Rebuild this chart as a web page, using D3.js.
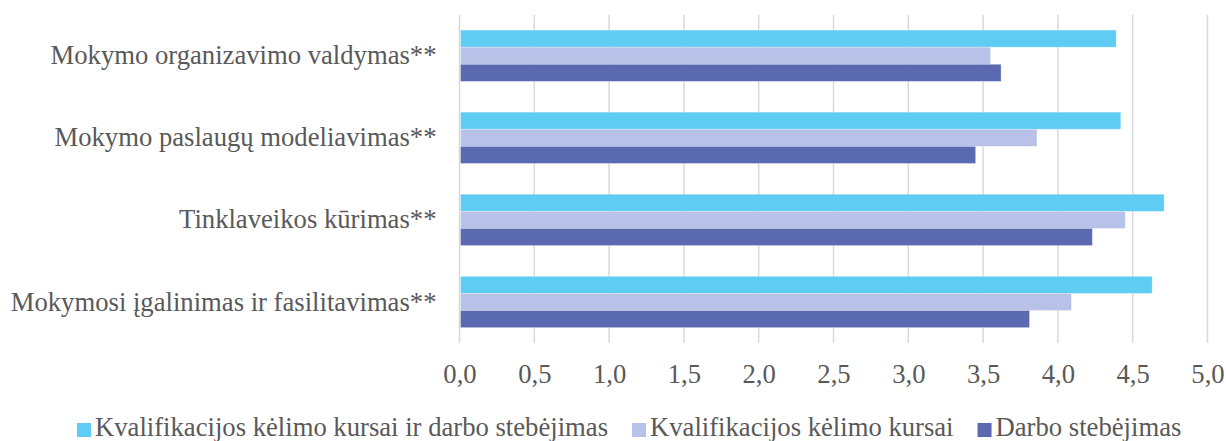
<!DOCTYPE html>
<html>
<head>
<meta charset="utf-8">
<script src="https://cdn.jsdelivr.net/npm/d3@7"></script>
<style>
  html, body { margin: 0; padding: 0; background: #fff; }
  svg { display: block; }
  text { font-family: "Liberation Serif", "Times New Roman", serif; fill: #595959; }
</style>
</head>
<body>
<svg id="chart" width="1226" height="441"></svg>
<script>
const categories = [
  "Mokymo organizavimo valdymas**",
  "Mokymo paslaugų modeliavimas**",
  "Tinklaveikos kūrimas**",
  "Mokymosi įgalinimas ir fasilitavimas**"
];
const seriesNames = [
  "Kvalifikacijos kėlimo kursai ir darbo stebėjimas",
  "Kvalifikacijos kėlimo kursai",
  "Darbo stebėjimas"
];
const seriesCombined = [4.39, 4.42, 4.71, 4.63];
const seriesCourses  = [3.55, 3.86, 4.45, 4.09];
const seriesObserve  = [3.62, 3.45, 4.23, 3.81];
const seriesColors = ["#5ECCF3", "#B8C2E8", "#5A69B0"];
const xTicks = [0, 0.5, 1, 1.5, 2, 2.5, 3, 3.5, 4, 4.5, 5];

const seriesValues = [seriesCombined, seriesCourses, seriesObserve];
const FONT = "'Liberation Serif', 'Times New Roman', serif";
const FS = "26.67px";

const svg = d3.select("#chart");
const plot = { left: 459.5, right: 1207.5, top: 14.7, bottom: 343 };

const x = d3.scaleLinear().domain([0, 5]).range([plot.left, plot.right]);
const y = d3.scaleBand().domain(categories).range([plot.top, plot.bottom])
  .paddingInner(0.375).paddingOuter(0.1875);
const ySub = d3.scaleBand().domain(seriesNames).range([0, y.bandwidth()]);

// gridlines
svg.append("g").selectAll("line").data(xTicks).join("line")
  .attr("x1", d => x(d)).attr("x2", d => x(d))
  .attr("y1", plot.top).attr("y2", plot.bottom)
  .attr("stroke", "#d9d9d9").attr("stroke-width", 1.5);

// bars
const rows = [];
categories.forEach((c, i) => {
  seriesNames.forEach((s, j) => rows.push({ c, s, j, v: seriesValues[j][i] }));
});
svg.append("g").selectAll("rect").data(rows).join("rect")
  .attr("x", x(0) + 1)
  .attr("y", d => y(d.c) + ySub(d.s))
  .attr("width", d => x(d.v) - x(0) - 1)
  .attr("height", ySub.bandwidth())
  .attr("fill", d => seriesColors[d.j])
  .attr("stroke", "#ffffff").attr("stroke-opacity", 0.35).attr("stroke-width", 0.8);

// x axis labels
const xAxis = d3.axisBottom(x).tickValues(xTicks).tickSize(0).tickPadding(0)
  .tickFormat(d => d3.format(".1f")(d).replace(".", ","));
const gx = svg.append("g").attr("transform", `translate(0,${plot.bottom})`).call(xAxis)
  .attr("font-family", null).attr("font-size", null);
gx.select(".domain").remove();
gx.selectAll("text").attr("dy", null).attr("y", 40)
  .style("font-size", FS).attr("fill", "#595959").style("font-family", FONT);

// y axis labels
const yAxis = d3.axisLeft(y).tickSize(0).tickPadding(23);
const gy = svg.append("g").attr("transform", `translate(${plot.left},0)`).call(yAxis)
  .attr("font-family", null).attr("font-size", null);
gy.select(".domain").remove();
gy.selectAll("text").attr("dy", "0.32em")
  .style("font-size", FS).attr("fill", "#595959").style("font-family", FONT);

// legend
const legend = svg.append("g");
let lx = 77;
seriesNames.forEach((s, j) => {
  const g = legend.append("g");
  g.append("rect").attr("x", lx).attr("y", 423).attr("width", 14).attr("height", 14)
    .attr("fill", seriesColors[j]);
  const t = g.append("text").attr("x", lx + 18).attr("y", 436)
    .style("font-size", FS).style("font-family", FONT).text(s);
  lx += 18 + t.node().getComputedTextLength() + 24;
});
</script>
</body>
</html>
